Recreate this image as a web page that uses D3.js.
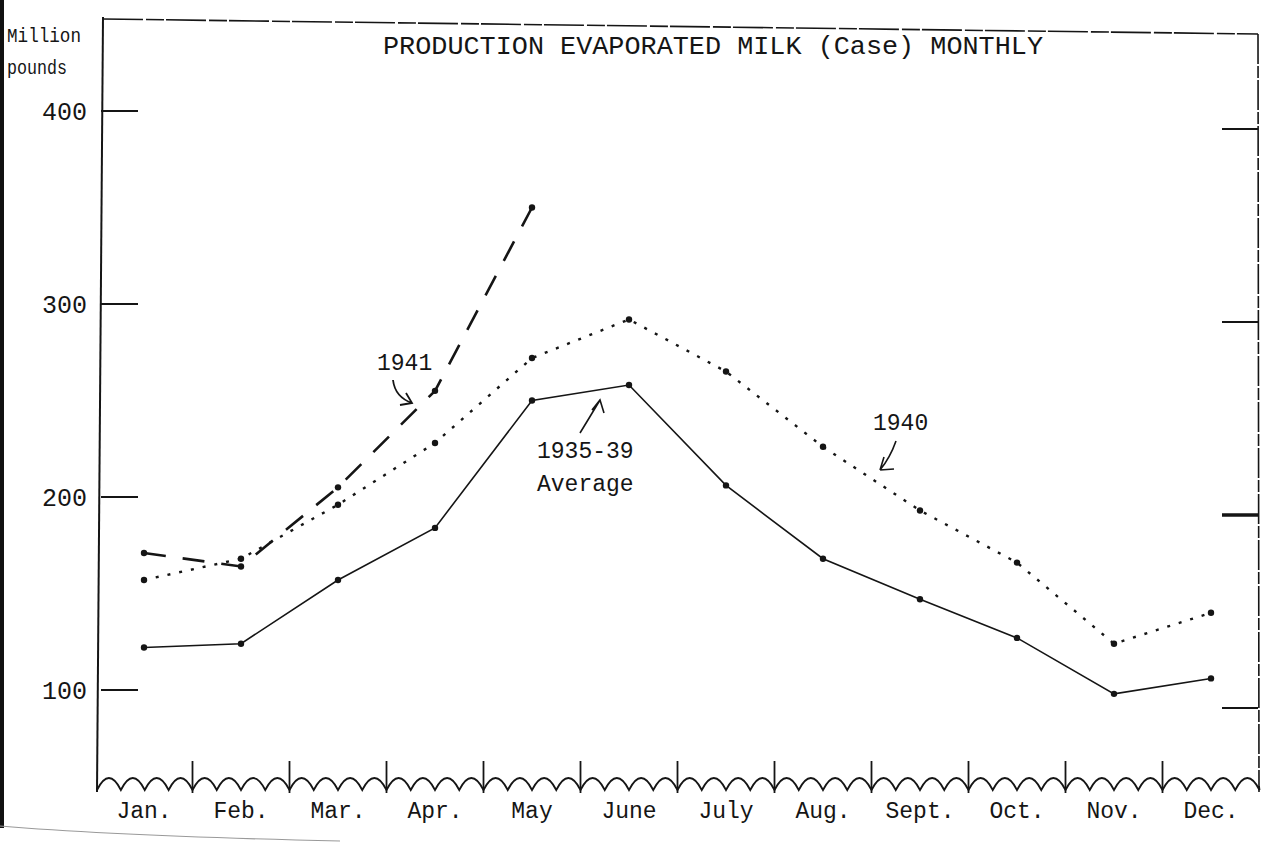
<!DOCTYPE html>
<html>
<head>
<meta charset="utf-8">
<script src="https://cdn.jsdelivr.net/npm/d3@7/dist/d3.min.js"></script>
<style>
  html, body { margin: 0; padding: 0; background: #fff; }
  svg { display: block; }
  text { font-family: "Liberation Mono", "DejaVu Sans Mono", monospace; fill: #151515; }
</style>
</head>
<body>
<svg id="chart" width="1263" height="843"></svg>
<script>
// ---- data ----
const months = ["Jan.", "Feb.", "Mar.", "Apr.", "May", "June", "July", "Aug.", "Sept.", "Oct.", "Nov.", "Dec."];
const avg3539 = [122, 124, 157, 184, 250, 258, 206, 168, 147, 127, 98, 106];
const y1940   = [157, 168, 196, 228, 272, 292, 265, 226, 193, 166, 124, 140];
const y1941   = [171, 164, 205, 255, 350];
const yTicks  = [100, 200, 300, 400];
const titleText = "PRODUCTION EVAPORATED MILK (Case) MONTHLY";

const ink = "#151515";
const svg = d3.select("#chart");

const x = d3.scalePoint().domain(months).range([144, 1211]);
const y = d3.scaleLinear().domain([100, 400]).range([690, 111]);
const step = x.step();

// scan artifacts: dark left strip and page edge
svg.append("rect").attr("x", 0).attr("y", 0).attr("width", 4).attr("height", 828).attr("fill", "#111");
svg.append("path").attr("d", "M0,826 Q120,836 340,841").attr("fill", "none")
  .attr("stroke", "#999").attr("stroke-width", 1.2);

// frame: left axis, top, right
svg.append("path").attr("d", "M103,17 L97,792").attr("stroke", ink).attr("stroke-width", 2).attr("fill", "none");
svg.append("path").attr("d", "M103,19 L1258,34").attr("stroke", ink).attr("stroke-width", 1.6).attr("fill", "none")
  .attr("stroke-dasharray", "40,3,18,2");
svg.append("path").attr("d", "M1258,34 L1259,792").attr("stroke", ink).attr("stroke-width", 1.6).attr("fill", "none")
  .attr("stroke-dasharray", "30,2,12,2");

// y ticks (left, inward) and labels
const yt = svg.append("g");
yTicks.forEach(v => {
  yt.append("line").attr("x1", 101).attr("x2", 138).attr("y1", y(v)).attr("y2", y(v))
    .attr("stroke", ink).attr("stroke-width", 2);
  yt.append("text").attr("x", 87).attr("y", y(v) + 9).attr("text-anchor", "end")
    .attr("font-size", 25).text(v);
  // right side ticks (sheet slightly skewed)
  yt.append("line").attr("x1", 1222).attr("x2", 1258).attr("y1", y(v) + 18).attr("y2", y(v) + 18)
    .attr("stroke", ink).attr("stroke-width", v === 200 ? 3.5 : 1.8);
});
svg.append("text").attr("x", 7).attr("y", 42).attr("font-size", 21)
  .attr("textLength", 74).attr("lengthAdjust", "spacingAndGlyphs").text("Million");
svg.append("text").attr("x", 7).attr("y", 74).attr("font-size", 21)
  .attr("textLength", 60).attr("lengthAdjust", "spacingAndGlyphs").text("pounds");

// title
svg.append("text").attr("x", 383).attr("y", 54).attr("font-size", 25)
  .attr("textLength", 660).attr("lengthAdjust", "spacingAndGlyphs").text(titleText);

// x axis: scalloped line with month boundary ticks
let scallop = "";
months.forEach((m, i) => {
  const x0 = i === 0 ? 97 : x(m) - step / 2;
  const x1 = x(m) + step / 2;
  const n = 4, w = (x1 - x0) / n;
  for (let k = 0; k < n; k++) {
    const a = x0 + k * w;
    scallop += (i === 0 && k === 0 ? "M" : "L") + a + ",790 Q" + (a + w / 2) + ",766 " + (a + w) + ",790 ";
  }
});
scallop += "L1259,786";
svg.append("path").attr("d", scallop).attr("fill", "none").attr("stroke", ink).attr("stroke-width", 1.8);
months.slice(0, -1).forEach(m => {
  svg.append("line").attr("x1", x(m) + step / 2).attr("x2", x(m) + step / 2)
    .attr("y1", 761).attr("y2", 793).attr("stroke", ink).attr("stroke-width", 1.8);
});
svg.append("g").selectAll("text").data(months).join("text")
  .attr("x", d => x(d)).attr("y", 818).attr("text-anchor", "middle").attr("font-size", 23).text(d => d);

// series
const line = d3.line().x((d, i) => x(months[i])).y(d => y(d));
svg.append("path").datum(avg3539).attr("d", line).attr("fill", "none")
  .attr("stroke", ink).attr("stroke-width", 1.6);
svg.append("path").datum(y1940).attr("d", line).attr("fill", "none")
  .attr("stroke", ink).attr("stroke-width", 2.4).attr("stroke-dasharray", "3,9");
svg.append("path").datum(y1941).attr("d", line).attr("fill", "none")
  .attr("stroke", ink).attr("stroke-width", 2.6).attr("stroke-dasharray", "22,17");

[avg3539, y1940, y1941].forEach(s => {
  svg.append("g").selectAll("circle").data(s).join("circle")
    .attr("cx", (d, i) => x(months[i])).attr("cy", d => y(d)).attr("r", 3.2).attr("fill", ink);
});

// annotations
svg.append("text").attr("x", 377).attr("y", 370).attr("font-size", 23).text("1941");
svg.append("path").attr("d", "M393,380 Q395,397 412,403 M400,405 L412,403 L406,393")
  .attr("fill", "none").attr("stroke", ink).attr("stroke-width", 1.8);

svg.append("text").attr("x", 537).attr("y", 458).attr("font-size", 23).text("1935-39");
svg.append("text").attr("x", 537).attr("y", 491).attr("font-size", 23).text("Average");
svg.append("path").attr("d", "M580,433 Q588,420 600,400 M592,410 L600,400 L604,413")
  .attr("fill", "none").attr("stroke", ink).attr("stroke-width", 1.6);

svg.append("text").attr("x", 873).attr("y", 430).attr("font-size", 23).text("1940");
svg.append("path").attr("d", "M896,441 Q890,458 880,470 M880,470 L894,469 M880,470 L884,457")
  .attr("fill", "none").attr("stroke", ink).attr("stroke-width", 1.6);
</script>
</body>
</html>
